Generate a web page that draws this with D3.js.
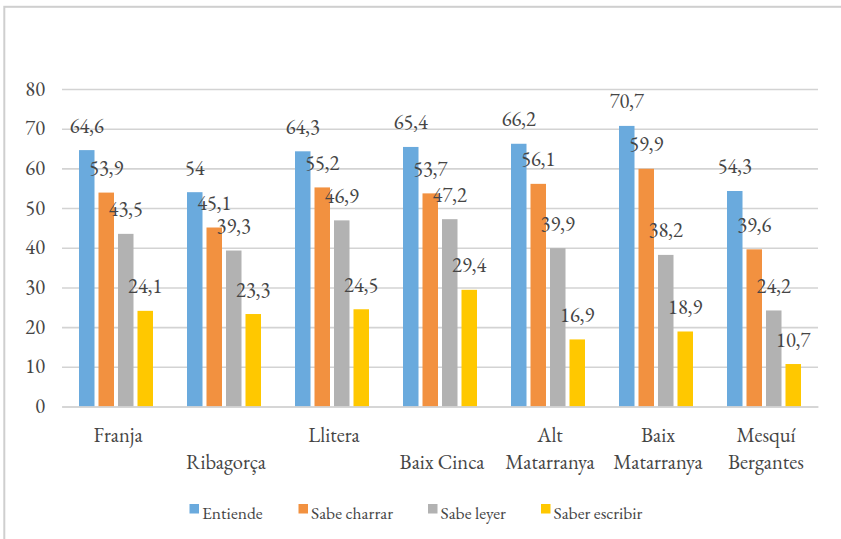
<!DOCTYPE html>
<html>
<head>
<meta charset="utf-8">
<script src="https://cdn.jsdelivr.net/npm/d3@7"></script>
<style>
  html, body { margin: 0; padding: 0; background: #fff; }
</style>
</head>
<body>
<svg id="chart" width="841" height="539"></svg>
<script>
// Regions of La Franja and the share (%) of people per language skill
const categories = ["Franja", "Ribagorça", "Llitera", "Baix Cinca", "Alt Matarranya", "Baix Matarranya", "Mesquí Bergantes"];
// How each category name is laid out on the axis (line 1, line 2)
const tickLines = [
  ["Franja", ""],
  ["", "Ribagorça"],
  ["Llitera", ""],
  ["", "Baix Cinca"],
  ["Alt", "Matarranya"],
  ["Baix", "Matarranya"],
  ["Mesquí", "Bergantes"]
];
const seriesNames = ["Entiende", "Sabe charrar", "Sabe leyer", "Saber escribir"];
const entiende      = [64.6, 54.0, 64.3, 65.4, 66.2, 70.7, 54.3];
const sabeCharrar   = [53.9, 45.1, 55.2, 53.7, 56.1, 59.9, 39.6];
const sabeLeyer     = [43.5, 39.3, 46.9, 47.2, 39.9, 38.2, 24.2];
const saberEscribir = [24.1, 23.3, 24.5, 29.4, 16.9, 18.9, 10.7];
const yTicks = [0, 10, 20, 30, 40, 50, 60, 70, 80];

const seriesValues = [entiende, sabeCharrar, sabeLeyer, saberEscribir];
const colors = ["#6aaadd", "#f29140", "#b2b2b2", "#ffc800"];
const textColor = "#454545";
const gridColor = "#d3d3d3";
const font = "EB Garamond";
const labelSize = 20.5;

const svg = d3.select("#chart");

// Outer frame
svg.append("rect")
  .attr("x", 4.3).attr("y", 6.8)
  .attr("width", 900).attr("height", 900)
  .attr("fill", "none")
  .attr("stroke", "#cfcfcf")
  .attr("stroke-width", 2);

const plot = { left: 62, right: 818, top: 89, bottom: 406.5 };

const x = d3.scaleBand()
  .domain(categories)
  .range([plot.left, plot.right])
  .paddingInner(0).paddingOuter(0);

const xInner = d3.scaleBand()
  .domain(seriesNames)
  .range([17, x.bandwidth() - 17])
  .paddingInner(0.205)
  .paddingOuter(0);

const y = d3.scaleLinear()
  .domain([0, 80])
  .range([plot.bottom, plot.top]);

// Horizontal gridlines and y tick labels
const yAxis = d3.axisLeft(y)
  .tickValues(yTicks)
  .tickSize(-(plot.right - plot.left))
  .tickPadding(17)
  .tickFormat(d3.format("d"));

const gY = svg.append("g")
  .attr("transform", `translate(${plot.left},0)`)
  .call(yAxis)
  .attr("font-family", font)
  .attr("font-size", labelSize);
gY.select(".domain").remove();
gY.selectAll(".tick line")
  .attr("stroke", gridColor)
  .attr("stroke-width", 1.6);
gY.selectAll(".tick text")
  .attr("fill", textColor)
  .attr("dy", "0.3em");

// Bars
const groups = svg.append("g").selectAll("g")
  .data(categories)
  .join("g")
  .attr("transform", d => `translate(${x(d)},0)`);

seriesNames.forEach((name, si) => {
  groups.append("rect")
    .attr("x", xInner(name))
    .attr("width", xInner.bandwidth())
    .attr("y", (d, ci) => y(seriesValues[si][ci]))
    .attr("height", (d, ci) => y(0) - y(seriesValues[si][ci]))
    .attr("fill", colors[si]);
});

// Value labels above each bar
const fmt = v => String(v).replace(".", ",");
seriesNames.forEach((name, si) => {
  groups.append("text")
    .attr("x", xInner(name) + xInner.bandwidth() / 2)
    .attr("y", (d, ci) => y(seriesValues[si][ci]) - 17.5)
    .attr("text-anchor", "middle")
    .attr("fill", textColor)
    .attr("font-family", font)
    .attr("font-size", labelSize)
    .text((d, ci) => fmt(seriesValues[si][ci]));
});

// Category axis baseline
const gX = svg.append("g")
  .attr("transform", `translate(0,${plot.bottom})`)
  .call(d3.axisBottom(x).tickSize(0).tickFormat(""));
gX.select(".domain").attr("stroke", gridColor).attr("stroke-width", 1.6);

// Category labels, one or two lines each
const catLabels = svg.append("g").selectAll("text")
  .data(categories)
  .join("text")
  .attr("x", d => x(d) + x.bandwidth() / 2)
  .attr("text-anchor", "middle")
  .attr("fill", textColor)
  .attr("font-family", font)
  .attr("font-size", labelSize);
catLabels.each(function(d, i) {
  const t = d3.select(this);
  tickLines[i].forEach((line, li) => {
    if (line) {
      t.append("tspan")
        .attr("x", x(d) + x.bandwidth() / 2 + 2)
        .attr("y", 442 + li * 26.5)
        .text(line);
    }
  });
});

// Legend
const legendX = [189.5, 298.5, 428, 541];
const legend = svg.append("g").selectAll("g")
  .data(seriesNames)
  .join("g")
  .attr("transform", (d, i) => `translate(${legendX[i]},504)`);
legend.append("rect")
  .attr("width", 9.5).attr("height", 9.5)
  .attr("fill", (d, i) => colors[i]);
legend.append("text")
  .attr("x", 12.5)
  .attr("y", 14.5)
  .attr("fill", textColor)
  .attr("font-family", font)
  .attr("font-size", 17.5)
  .text(d => d);
</script>
</body>
</html>
